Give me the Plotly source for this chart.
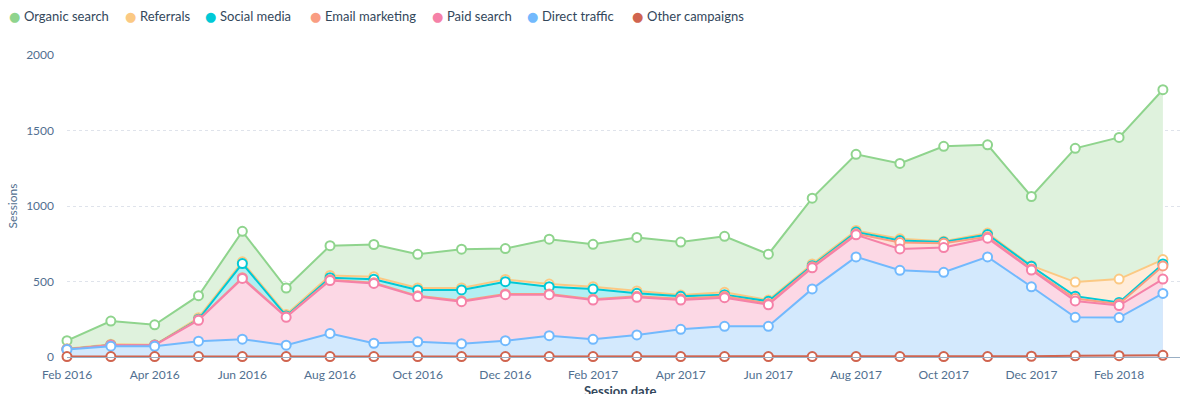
import plotly.graph_objects as go

months = ["Feb 2016", "Mar 2016", "Apr 2016", "May 2016", "Jun 2016", "Jul 2016",
          "Aug 2016", "Sep 2016", "Oct 2016", "Nov 2016", "Dec 2016", "Jan 2017",
          "Feb 2017", "Mar 2017", "Apr 2017", "May 2017", "Jun 2017", "Jul 2017",
          "Aug 2017", "Sep 2017", "Oct 2017", "Nov 2017", "Dec 2017", "Jan 2018",
          "Feb 2018", "Mar 2018"]

other_campaigns = [3, 3, 3, 3, 3, 3, 3, 3, 3, 3, 3, 3, 3, 3, 3, 3, 3, 3, 3, 3, 3, 3, 5, 8, 9, 11]
direct_traffic = [46, 69, 68, 102, 115, 75, 153, 88, 98, 85, 105, 138, 114, 143, 180, 200, 200,
                  448, 660, 571, 558, 660, 460, 255, 252, 410]
paid_search = [1, 5, 6, 138, 402, 185, 350, 396, 299, 278, 305, 272, 260, 249, 194, 190, 143,
               140, 146, 142, 164, 124, 111, 108, 80, 95]
email_marketing = [1, 2, 1, 3, 5, 3, 6, 5, 5, 6, 5, 5, 6, 7, 8, 9, 9, 7, 7, 42, 29, 9, 7, 16, 10, 87]
social_media = [1, 1, 1, 4, 94, 6, 13, 23, 39, 72, 81, 48, 67, 20, 17, 11, 14, 7, 11, 13, 7, 15,
                18, 16, 10, 13]
referrals = [3, 5, 2, 10, 11, 10, 15, 17, 13, 13, 15, 17, 16, 15, 8, 15, 8, 11, 11, 12, 6, 10, 4,
             93, 155, 29]
organic_search = [53, 153, 132, 146, 202, 175, 197, 213, 223, 257, 204, 297, 280, 355, 351, 371,
                  304, 436, 504, 499, 628, 584, 458, 886, 938, 1125]

tick_labels = ["Feb 2016", "Apr 2016", "Jun 2016", "Aug 2016", "Oct 2016", "Dec 2016",
               "Feb 2017", "Apr 2017", "Jun 2017", "Aug 2017", "Oct 2017", "Dec 2017", "Feb 2018"]

# stacking order: bottom first
series = [
    ("Other campaigns", other_campaigns, "#d0644f", None),
    ("Direct traffic", direct_traffic, "#72b9fd", "#d3e9fd"),
    ("Paid search", paid_search, "#f581a8", "#fcd8e5"),
    ("Email marketing", email_marketing, "#f99d82", "#fde0d8"),
    ("Social media", social_media, "#00c9d6", "#b2eff2"),
    ("Referrals", referrals, "#fbc983", "#ffecd9"),
    ("Organic search", organic_search, "#8fd48d", "#dff2dd"),
]

# cumulative stack tops
cumulative = []
running = [0] * len(months)
for name, vals, col, fillc in series:
    running = [r + v for r, v in zip(running, vals)]
    cumulative.append(list(running))

W, H = 1184, 394
ML, MR, MT, MB = 67, 4, 55, 37
PW, PH = W - ML - MR, H - MT - MB

x_idx = list(range(len(months)))
fig = go.Figure()
# draw top series first so lower series' markers sit on top (as in the reference)
for (name, vals, col, fillc), tops in reversed(list(zip(series, cumulative))):
    fig.add_trace(go.Scatter(
        x=x_idx, y=tops, name=name, mode="lines+markers",
        fill="tozeroy" if fillc else "none", fillcolor=fillc,
        line=dict(color=col, width=2), cliponaxis=False,
        marker=dict(size=9, color="white", line=dict(color=col, width=2)),
        showlegend=False, customdata=list(zip(months, vals)),
        hovertemplate="%{customdata[0]}<br>" + name + ": %{customdata[1]}<extra></extra>",
    ))

# legend drawn as annotations (dot + label), in legend order
legend_dot_px = [14, 130, 210, 315, 437, 532, 637]
legend_y = 1 + (MT - 16) / PH
annotations = []
for (name, vals, col, fillc), px in zip(reversed(series), legend_dot_px):
    annotations.append(dict(
        xref="paper", yref="paper", x=(px - ML) / PW, y=legend_y,
        xanchor="center", yanchor="middle", showarrow=False,
        text="●", font=dict(size=13, color=col, family="DejaVu Sans"),
    ))
    annotations.append(dict(
        xref="paper", yref="paper", x=(px + 8 - ML) / PW, y=legend_y,
        xanchor="left", yanchor="middle", showarrow=False,
        text=name, font=dict(size=13, color="#33475b", family="Lato, sans-serif"),
    ))

# x-axis title placed like the reference (partly below the page edge)
annotations.append(dict(
    xref="paper", yref="paper", x=(620 - ML) / PW, y=-(391 - (H - MB)) / PH,
    xanchor="center", yanchor="middle", showarrow=False,
    text="<b>Session date</b>", font=dict(size=13, color="#33475b", family="Lato, sans-serif"),
))

tick_pos = [months.index(t) for t in tick_labels]

fig.update_layout(
    width=W, height=H,
    margin=dict(l=ML, r=MR, t=MT, b=MB),
    paper_bgcolor="white", plot_bgcolor="white",
    font=dict(family="Lato, sans-serif", size=12, color="#516f90"),
    showlegend=False,
    annotations=annotations,
    xaxis=dict(
        range=[0, 25.39], tickmode="array", tickvals=tick_pos, ticktext=tick_labels,
        showgrid=False, zeroline=False, showline=True, linecolor="#99afc4", linewidth=1,
        ticks="", ticklabelstandoff=7, tickfont=dict(size=12, color="#516f90"),
        automargin=False,
    ),
    yaxis=dict(
        range=[0, 2000], tickvals=[0, 500, 1000, 1500, 2000], showgrid=True,
        gridcolor="#dfe3eb", griddash="3px,3px", gridwidth=1, zeroline=False,
        ticks="", ticklabelstandoff=12, tickfont=dict(size=12, color="#516f90"),
        title=dict(text="Sessions", font=dict(size=12, color="#516f90"), standoff=5),
        automargin=False,
    ),
)

fig.write_html("out.html", config={"displayModeBar": False},
               post_script="document.body.style.margin='0';")
